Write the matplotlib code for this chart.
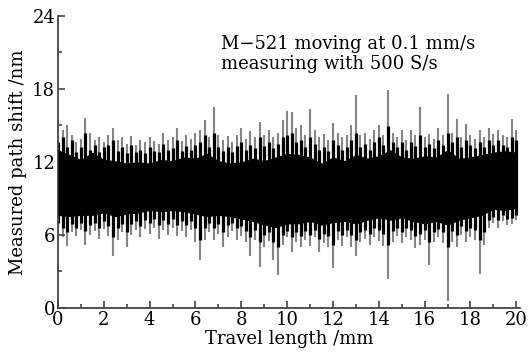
import numpy as np
import matplotlib
matplotlib.use('Agg')
import matplotlib.pyplot as plt
from matplotlib.ticker import MultipleLocator

# dense black core of the trace, read every 0.5 mm
x_core = np.arange(0, 20.01, 0.5)
core_hi = [13.0, 12.6, 12.2, 12.8, 12.2, 12.1, 11.9, 12.0, 11.9, 12.2,
           12.1, 12.4, 12.3, 12.7, 12.1, 11.9, 12.0, 12.3, 12.1, 12.4,
           12.7, 12.6, 12.4, 11.9, 12.4, 12.1, 12.6, 12.3, 12.5, 13.0,
           12.4, 12.3, 12.5, 12.4, 13.0, 12.3, 12.4, 12.6, 12.8, 12.9, 12.8]
core_lo = [7.6, 7.5, 7.6, 7.6, 7.8, 7.5, 7.7, 7.8, 8.0, 7.9,
           8.0, 7.9, 7.7, 7.5, 7.6, 7.5, 7.3, 7.1, 6.8, 6.6,
           6.9, 6.9, 7.1, 6.8, 7.0, 7.1, 6.9, 7.2, 7.4, 7.2,
           7.4, 7.1, 6.9, 7.1, 6.8, 7.2, 7.4, 7.6, 8.1, 8.0, 8.2]

# jagged black edges and grey excursions, read every 0.2 mm
x_spk = np.arange(0, 20.01, 0.2)
blk_hi = [13.6, 14.0, 13.2, 13.8, 12.8, 13.2, 14.4, 13.0, 13.4, 12.8,
          13.2, 13.4, 13.8, 12.9, 13.2, 12.7, 13.4, 12.8, 13.0, 12.7,
          13.2, 12.9, 12.8, 13.5, 13.0, 13.1, 13.8, 12.9, 13.3, 13.0,
          13.4, 13.6, 14.2, 13.2, 14.4, 13.2, 12.9, 13.2, 12.8, 13.3,
          13.6, 13.0, 13.4, 13.1, 14.0, 13.3, 13.6, 13.1, 13.5, 14.0,
          14.2, 14.4, 13.6, 13.8, 13.2, 14.0, 13.5, 13.0, 13.2, 12.9,
          13.8, 13.4, 13.0, 13.2, 13.8, 14.4, 13.2, 13.5, 13.0, 13.6,
          14.0, 13.4, 14.9, 13.6, 13.2, 13.6, 13.0, 13.6, 13.3, 14.2,
          13.2, 13.5, 13.1, 13.8, 13.4, 14.4, 13.6, 14.0, 13.2, 13.8,
          13.4, 13.1, 13.6, 13.2, 13.8, 13.4, 13.8, 13.4, 13.2, 14.0, 13.8]
blk_lo = [7.0, 6.6, 6.2, 6.9, 6.6, 7.0, 6.3, 6.8, 7.0, 6.6,
          7.1, 6.7, 5.8, 6.6, 6.9, 6.2, 6.9, 7.1, 6.7, 7.2,
          7.0, 7.3, 6.8, 7.2, 6.9, 7.3, 6.8, 7.1, 6.8, 7.1,
          6.6, 5.6, 6.6, 7.0, 6.6, 6.9, 6.2, 6.8, 7.0, 6.6,
          6.7, 6.3, 5.8, 6.4, 5.4, 6.0, 6.2, 5.4, 5.0, 6.0,
          6.3, 5.8, 6.2, 5.9, 6.3, 6.0, 6.4, 5.7, 6.1, 5.9,
          5.2, 6.3, 6.0, 6.4, 6.0, 5.6, 6.2, 6.4, 6.1, 6.6,
          6.4, 6.1, 5.2, 6.3, 6.6, 6.2, 6.6, 6.4, 5.9, 6.1,
          6.4, 5.4, 6.2, 6.5, 6.2, 5.0, 6.3, 6.0, 6.7, 6.3,
          6.6, 6.4, 5.6, 6.2, 7.2, 7.5, 7.2, 7.6, 7.3, 7.4, 7.6]
spk_hi = [13.8, 14.6, 15.0, 14.2, 13.6, 13.9, 15.6, 14.4, 13.8, 14.0,
          13.6, 14.2, 14.8, 13.8, 14.0, 13.5, 14.1, 13.4, 13.8, 13.6,
          14.0, 13.7, 13.5, 14.4, 13.8, 14.0, 14.8, 13.7, 14.2, 13.9,
          14.4, 14.6, 15.4, 14.0, 16.5, 14.2, 13.8, 14.1, 13.6, 14.2,
          14.8, 13.9, 14.5, 14.0, 15.3, 14.2, 14.6, 14.0, 14.4, 15.4,
          16.2, 16.1, 14.8, 15.0, 14.2, 16.3, 14.6, 14.0, 14.3, 13.8,
          15.2, 14.4, 14.0, 14.2, 15.0, 17.5, 14.2, 14.4, 13.9, 14.6,
          15.0, 14.2, 17.9, 14.4, 14.0, 14.6, 13.8, 14.6, 14.2, 16.5,
          14.0, 14.3, 13.9, 14.8, 14.2, 17.6, 14.4, 15.5, 14.0, 15.1,
          14.2, 13.9, 14.6, 14.0, 14.8, 14.3, 14.6, 14.2, 14.0, 15.5, 14.6]
spk_lo = [6.6, 5.8, 5.1, 6.2, 5.9, 6.4, 5.2, 6.0, 6.3, 5.7,
          6.5, 5.9, 4.3, 5.6, 6.2, 5.0, 6.0, 6.4, 5.8, 6.5,
          6.1, 6.6, 5.7, 6.4, 6.0, 6.6, 5.9, 6.3, 5.8, 6.4,
          5.4, 3.9, 5.6, 6.2, 5.6, 6.1, 5.0, 5.8, 6.3, 5.6,
          5.9, 5.4, 4.3, 5.6, 3.4, 5.0, 5.5, 3.9, 2.7, 5.2,
          5.8, 4.6, 5.4, 5.0, 5.6, 5.1, 5.8, 4.6, 5.3, 5.0,
          3.3, 5.6, 5.1, 5.8, 5.0, 4.3, 5.4, 5.7, 5.2, 5.8,
          5.5, 5.1, 2.4, 5.4, 5.9, 5.3, 5.8, 5.6, 4.9, 5.2,
          5.6, 3.5, 5.4, 5.8, 5.3, 0.6, 5.4, 5.0, 6.0, 5.4,
          5.8, 5.6, 2.8, 5.2, 6.6, 7.0, 6.6, 7.1, 6.8, 6.9, 7.2]

xticks = np.arange(0, 21, 2)
yticks = [0, 6, 12, 18, 24]
note = 'M\u2212521 moving at 0.1 mm/s\nmeasuring with 500 S/s'

plt.rcParams['font.family'] = ['DejaVu Serif']

fig = plt.figure(figsize=(5.32, 3.64), dpi=100)
ax = fig.add_axes([0.109, 0.154, 0.868, 0.803])

ax.vlines(x_spk, spk_lo, spk_hi, color='#858585', lw=1.5, zorder=1)
ax.vlines(x_spk, blk_lo, blk_hi, color='black', lw=2.3, zorder=2)
ax.fill_between(x_core, core_lo, core_hi, color='black', lw=0, zorder=3)

ax.set_xlim(0, 20.15)
ax.set_ylim(0, 24)
ax.set_xticks(xticks)
ax.set_yticks(yticks)
ax.xaxis.set_minor_locator(MultipleLocator(1))
ax.yaxis.set_minor_locator(MultipleLocator(3))
ax.tick_params(which='both', direction='in', labelsize=13, color='#444444', width=1.2)
ax.tick_params(which='major', length=5, pad=2)
ax.tick_params(which='minor', length=3)
for s in ['top', 'right']:
    ax.spines[s].set_visible(False)
for s in ['left', 'bottom']:
    ax.spines[s].set_linewidth(1.3)
    ax.spines[s].set_color('#444444')

ax.set_xlabel('Travel length /mm', fontsize=13, labelpad=1)
ax.set_ylabel('Measured path shift /nm', fontsize=13, labelpad=4)
ax.text(7.1, 22.4, note, fontsize=13, va='top', ha='left', linespacing=1.15)

fig.savefig('out.png', dpi=100)
